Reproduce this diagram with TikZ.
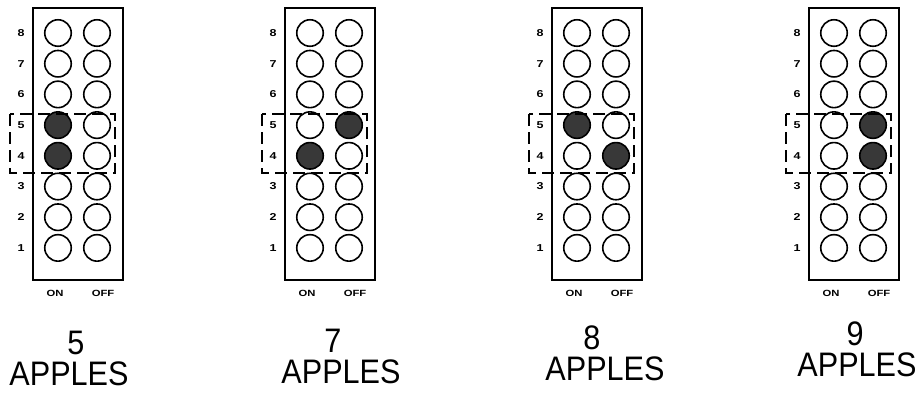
\documentclass[tikz,border=0pt]{standalone}
\usepackage{fontspec}
\setmainfont{Liberation Sans}
\newfontfamily\countfont[FakeStretch=0.9]{Liberation Sans}
\newfontfamily\keyfont[FakeStretch=1.25]{Liberation Sans}
\usetikzlibrary{positioning}

\tikzset{
  hole/.style={circle, draw, line width=1.6pt, minimum size=26.5pt, inner sep=0pt},
  dipbox/.style={draw, line width=1.8pt, minimum width=90pt, minimum height=272pt, inner sep=0pt},
  pickbox/.style={draw, line width=1.5pt, dash pattern=on 12pt off 6pt},
  rowlbl/.style={font=\keyfont\bfseries\fontsize{10}{10}\selectfont, inner sep=0pt},
  swlbl/.style={font=\keyfont\bfseries\fontsize{9}{9}\selectfont, inner sep=0pt},
  countlbl/.style={font=\countfont\fontsize{34}{34}\selectfont, inner sep=0pt}
}

\begin{document}
\begin{tikzpicture}[x=1pt, y=-1pt]
        \useasboundingbox (0,0) rectangle (923,392);
        % panel, box left, filled column in row 5 and row 4 (0 = on, 1 = off), count, text x, text y
        \foreach \p/\bx/\fv/\fiv/\n/\nx/\wx/\ty in {1/33/0/0/5/76/69/374, 2/285/1/0/7/333/341/372,
                                                   3/552/0/1/8/592/605/369, 4/809/1/1/9/855/857/365} {
            \node[dipbox] (box\p) at (\bx+45, 144) {};
            \foreach \r in {1,...,8} {
                \pgfmathsetmacro\ry{33+30.7*(8-\r)}
                \node[rowlbl] (row\p-\r) at (\bx-12, \ry) {\r};
                \foreach \c in {0,1} {
                    \pgfmathtruncatemacro\isfull{((\r==5) && (\c==\fv)) || ((\r==4) && (\c==\fiv))}
                    \ifnum\isfull=1 \def\holefill{black!78}\else \def\holefill{white}\fi
                    \node[hole, fill=\holefill] (hole\p-\r-\c) at (\bx+25+39*\c, \ry) {};
                }
            }
            \draw[pickbox] (\bx-23, 114) rectangle (\bx+82, 173);
            \node[swlbl] (on\p) at (\bx+22, 293) {ON};
            \node[swlbl] (off\p) at (\bx+70, 293) {OFF};
            \node[countlbl] (num\p) at (\nx, \ty-31) {\n};
            \node[countlbl] (word\p) at (\wx, \ty) {APPLES};
        }
    \end{tikzpicture}
\end{document}
